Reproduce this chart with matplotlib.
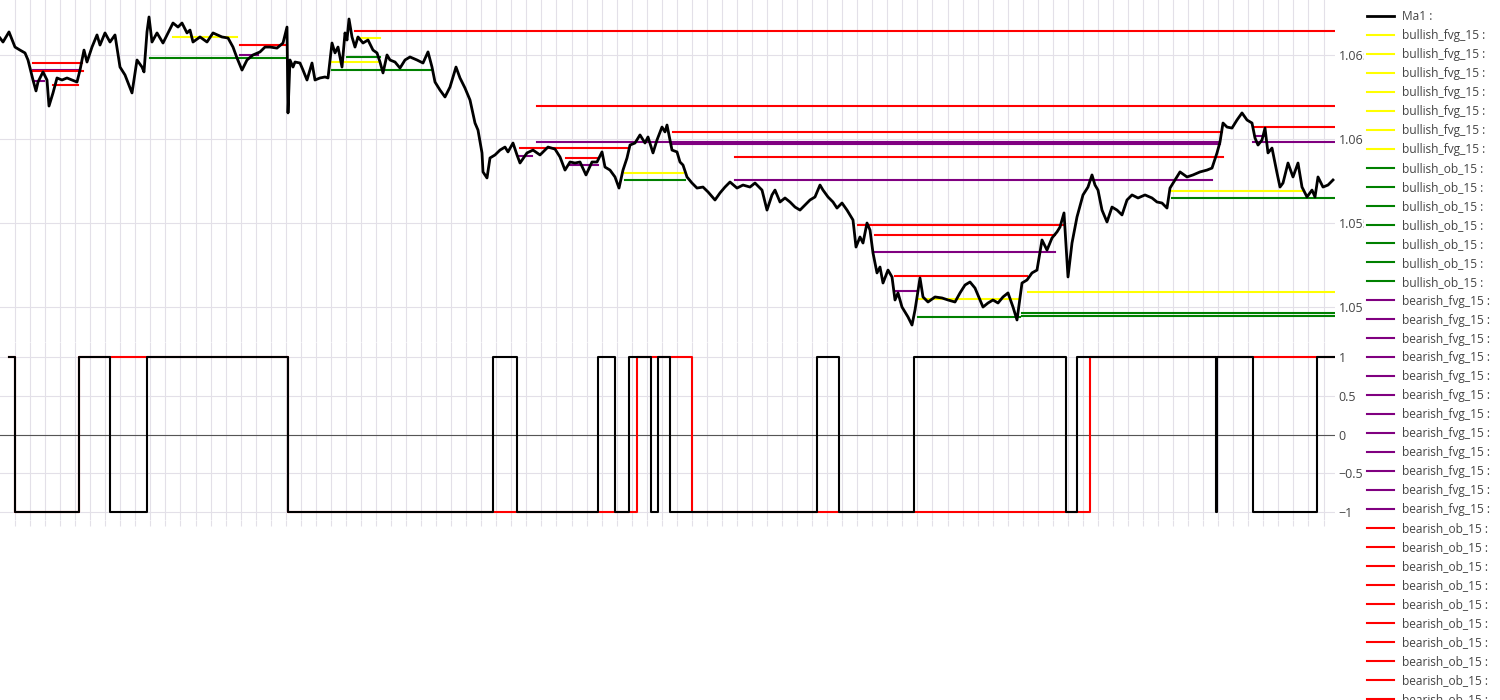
import numpy as np
import matplotlib
matplotlib.use("Agg")
import matplotlib.pyplot as plt

plt.rcParams['font.family'] = ['Open Sans', 'DejaVu Sans']

# price (Ma1), bar index -> price
bars = [0, 3, 9, 15, 20, 25, 28, 33, 36, 38, 43, 47, 49, 53, 57, 62, 67, 72, 77, 80,
        84, 87, 92, 97, 100, 105, 110, 115, 120, 125, 132, 137, 142, 144, 147, 149, 152, 157, 163, 168,
        173, 178, 182, 187, 190, 193, 200, 207, 213, 222, 228, 233, 237, 242, 247, 253, 260, 265, 270, 277,
        283, 287, 288, 290, 293, 295, 300, 303, 307, 312, 315, 320, 325, 328, 332, 335, 338, 342, 345, 347,
        349, 352, 355, 358, 363, 368, 373, 377, 380, 383, 387, 390, 395, 400, 405, 410, 417, 423, 428, 432,
        435, 440, 445, 450, 456, 460, 465, 470, 475, 478, 482, 483, 487, 490, 495, 500, 505, 508, 513, 517,
        520, 527, 533, 540, 548, 555, 560, 565, 570, 575, 580, 586, 592, 597, 602, 605, 610, 615, 619, 623,
        627, 630, 635, 640, 645, 648, 653, 657, 662, 665, 667, 670, 672, 677, 680, 683, 687, 692, 697, 703,
        708, 715, 720, 725, 730, 737, 743, 750, 755, 762, 767, 772, 775, 780, 785, 790, 795, 800, 805, 810,
        815, 820, 823, 828, 833, 837, 842, 847, 853, 856, 860, 863, 867, 870, 873, 877, 880, 883, 888, 892,
        895, 898, 902, 905, 908, 912, 915, 920, 923, 928, 935, 942, 948, 955, 960, 965, 970, 975, 980, 983,
        988, 993, 998, 1003, 1008, 1013, 1017, 1022, 1027, 1032, 1037, 1042, 1047, 1052, 1057, 1060, 1064, 1067, 1068, 1072,
        1077, 1083, 1088, 1092, 1095, 1098, 1102, 1107, 1112, 1117, 1122, 1127, 1132, 1138, 1145, 1152, 1157, 1162, 1167, 1170,
        1175, 1180, 1187, 1193, 1200, 1207, 1212, 1217, 1220, 1223, 1227, 1232, 1237, 1242, 1247, 1252, 1255, 1258, 1262, 1265,
        1268, 1272, 1277, 1280, 1283, 1288, 1293, 1298, 1302, 1307, 1312, 1315, 1318, 1323, 1328, 1333]
ma1 = [1.06601, 1.06577, 1.06637, 1.06547, 1.06529, 1.06512, 1.06470, 1.06351, 1.06286, 1.06339,
       1.06399, 1.06351, 1.06196, 1.06274, 1.06363, 1.06351, 1.06363, 1.06351, 1.06339, 1.06410,
       1.06529, 1.06458, 1.06547, 1.06619, 1.06559, 1.06631, 1.06577, 1.06619, 1.06428, 1.06381,
       1.06274, 1.06470, 1.06428, 1.06399, 1.06637, 1.06726, 1.06577, 1.06631, 1.06571, 1.06631,
       1.06690, 1.06666, 1.06690, 1.06631, 1.06648, 1.06577, 1.06607, 1.06577, 1.06631, 1.06607,
       1.06601, 1.06547, 1.06482, 1.06410, 1.06470, 1.06500, 1.06518, 1.06547, 1.06547, 1.06541,
       1.06571, 1.06666, 1.06155, 1.06470, 1.06428, 1.06458, 1.06452, 1.06410, 1.06351, 1.06452,
       1.06351, 1.06363, 1.06369, 1.06363, 1.06571, 1.06512, 1.06547, 1.06428, 1.06631, 1.06589,
       1.06714, 1.06607, 1.06547, 1.06607, 1.06571, 1.06589, 1.06529, 1.06512, 1.06458, 1.06393,
       1.06500, 1.06470, 1.06458, 1.06422, 1.06470, 1.06488, 1.06470, 1.06452, 1.06518, 1.06428,
       1.06339, 1.06291, 1.06250, 1.06309, 1.06428, 1.06363, 1.06303, 1.06232, 1.06095, 1.06053,
       1.05917, 1.05804, 1.05768, 1.05887, 1.05905, 1.05934, 1.05952, 1.05923, 1.05976, 1.05905,
       1.05857, 1.05917, 1.05934, 1.05905, 1.05952, 1.05940, 1.05893, 1.05815, 1.05863, 1.05857,
       1.05863, 1.05786, 1.05863, 1.05863, 1.05923, 1.05833, 1.05815, 1.05774, 1.05708, 1.05815,
       1.05887, 1.05964, 1.05976, 1.06024, 1.05976, 1.06012, 1.05917, 1.05994, 1.06071, 1.06042,
       1.06083, 1.05994, 1.05934, 1.05923, 1.05863, 1.05845, 1.05774, 1.05738, 1.05708, 1.05714,
       1.05685, 1.05637, 1.05679, 1.05714, 1.05744, 1.05708, 1.05726, 1.05714, 1.05738, 1.05696,
       1.05577, 1.05667, 1.05696, 1.05625, 1.05649, 1.05625, 1.05595, 1.05577, 1.05607, 1.05637,
       1.05655, 1.05726, 1.05696, 1.05655, 1.05625, 1.05589, 1.05619, 1.05577, 1.05518, 1.05357,
       1.05417, 1.05381, 1.05500, 1.05458, 1.05322, 1.05203, 1.05238, 1.05143, 1.05220, 1.05179,
       1.05042, 1.05084, 1.05000, 1.04971, 1.04941, 1.04893, 1.04982, 1.05173, 1.05060, 1.05030,
       1.05060, 1.05054, 1.05042, 1.05030, 1.05084, 1.05131, 1.05149, 1.05113, 1.05042, 1.05000,
       1.05024, 1.05042, 1.05024, 1.05060, 1.05084, 1.05000, 1.04923, 1.05143, 1.05161, 1.05203,
       1.05220, 1.05399, 1.05339, 1.05411, 1.05447, 1.05476, 1.05560, 1.05280, 1.05179, 1.05381,
       1.05536, 1.05667, 1.05714, 1.05786, 1.05726, 1.05696, 1.05577, 1.05506, 1.05595, 1.05577,
       1.05548, 1.05637, 1.05667, 1.05649, 1.05667, 1.05649, 1.05625, 1.05619, 1.05589, 1.05708,
       1.05756, 1.05804, 1.05774, 1.05786, 1.05804, 1.05815, 1.05827, 1.05917, 1.05982, 1.06095,
       1.06071, 1.06065, 1.06113, 1.06155, 1.06113, 1.06095, 1.06006, 1.05964, 1.05994, 1.06065,
       1.05917, 1.05946, 1.05798, 1.05714, 1.05738, 1.05857, 1.05774, 1.05857, 1.05714, 1.05655,
       1.05696, 1.05655, 1.05774, 1.05714, 1.05726, 1.05756]

# zones: (start bar, end bar, level)
bullish_fvg = [(173, 237, 1.06607), (357, 380, 1.06601), (332, 380, 1.06458), (625, 683, 1.05798),
               (918, 1020, 1.05048), (1028, 1335, 1.05090), (1172, 1302, 1.05691)]
bullish_ob = [(150, 287, 1.06482), (347, 380, 1.06488), (332, 432, 1.06410), (625, 685, 1.05756),
              (918, 1020, 1.04941), (1022, 1335, 1.04965), (1022, 1335, 1.04947), (1172, 1335, 1.05649)]
bearish_fvg = [(33, 80, 1.06410), (35, 44, 1.06345), (240, 258, 1.06500), (537, 1218, 1.05982),
               (673, 1220, 1.05970), (1253, 1335, 1.05982), (518, 532, 1.05899), (570, 598, 1.05845),
               (735, 1212, 1.05756), (875, 1055, 1.05328), (895, 918, 1.05096), (1255, 1265, 1.06018)]
bearish_ob = [(33, 82, 1.06452), (33, 83, 1.06404), (53, 78, 1.06321), (240, 287, 1.06559),
              (355, 1335, 1.06643), (537, 1335, 1.06196), (673, 1222, 1.06042), (520, 627, 1.05946),
              (566, 598, 1.05887), (735, 1223, 1.05893), (858, 1063, 1.05488), (875, 1055, 1.05429),
              (895, 1027, 1.05185), (1255, 1335, 1.06071)]

# trend state, lower panel
trend_x = [9, 15, 79, 110, 147, 288, 493, 517, 598, 615, 629, 651, 658, 670, 817, 839,
           914, 1066, 1077, 1216, 1217, 1253, 1317, 1334]
trend_v = [1, -1, 1, -1, 1, -1, 1, -1, 1, -1, 1, -1, 1, -1, 1, -1,
           1, -1, 1, -1, 1, -1, 1, 1]
trend2_x = [9, 15, 79, 288, 637, 692, 1090, 1334]
trend2_v = [1, -1, 1, -1, 1, -1, 1, 1]

assert len(bars) == len(ma1)

grid_c = '#e3e0e8'
txt_c = '#444444'

fig = plt.figure(figsize=(15, 7), dpi=100)
ax1 = fig.add_axes([0, 1 - 342 / 700, 1335 / 1500, 342 / 700])
ax2 = fig.add_axes([0, 180 / 700, 1335 / 1500, 172 / 700], sharex=ax1)

handles = []
ln, = ax1.plot(bars, ma1, color='black', lw=2.0, zorder=4, label='Ma1 :')
handles.append(ln)

groups = [(bullish_fvg, '#ffff00', 'bullish_fvg_15 :', 7),
          (bullish_ob, '#008000', 'bullish_ob_15 :', 7),
          (bearish_fvg, '#800080', 'bearish_fvg_15 :', 12),
          (bearish_ob, '#ff0000', 'bearish_ob_15 :', 14)]
for zones, col, name, nleg in groups:
    for i, (x0, x1, lvl) in enumerate(zones):
        l, = ax1.plot([x0, x1], [lvl, lvl], color=col, lw=1.5, zorder=3, label=name)
        if i < nleg:
            handles.append(l)

ax2.step(trend2_x, trend2_v, where='post', color='#ff0000', lw=1.5, zorder=3)
ax2.step(trend_x, trend_v, where='post', color='black', lw=1.5, zorder=4)
ax2.axhline(0, color='#555555', lw=0.8, zorder=2)

ax1.set_xlim(0, 1335)
ax1.set_ylim(1.04792, 1.06827)
ax2.set_ylim(-1.103, 1.116)

xt = np.arange(15.04, 1335, 15.04)
for ax in (ax1, ax2):
    for s in ax.spines.values():
        s.set_visible(False)
    ax.set_xticks(xt)
    ax.grid(True, color=grid_c, lw=0.8, zorder=0)
    ax.set_axisbelow(True)
    ax.yaxis.tick_right()
    ax.tick_params(axis='y', length=0, pad=2.5, labelsize=9, labelcolor=txt_c)
    ax.tick_params(axis='x', length=4, color=grid_c, labelbottom=False)

ax1.set_yticks([1.05, 1.055, 1.06, 1.065])
ax1.set_yticklabels(['1.05', '1.055', '1.06', '1.065'])
ax2.set_yticks([-1, -0.5, 0, 0.5, 1])
ax2.set_yticklabels(['\u22121', '\u22120.5', '0', '0.5', '1'])

leg = fig.legend(handles=handles, labels=[h.get_label() for h in handles],
                 loc='upper left', bbox_to_anchor=(1364 / 1500, 1 - 7 / 700),
                 fontsize=8.6, labelcolor=txt_c, frameon=True, facecolor='white',
                 edgecolor='white', framealpha=1, fancybox=False,
                 borderpad=0.25, handlelength=2.3, handletextpad=0.65,
                 labelspacing=0.5, borderaxespad=0)

fig.savefig('out.png', dpi=100)
